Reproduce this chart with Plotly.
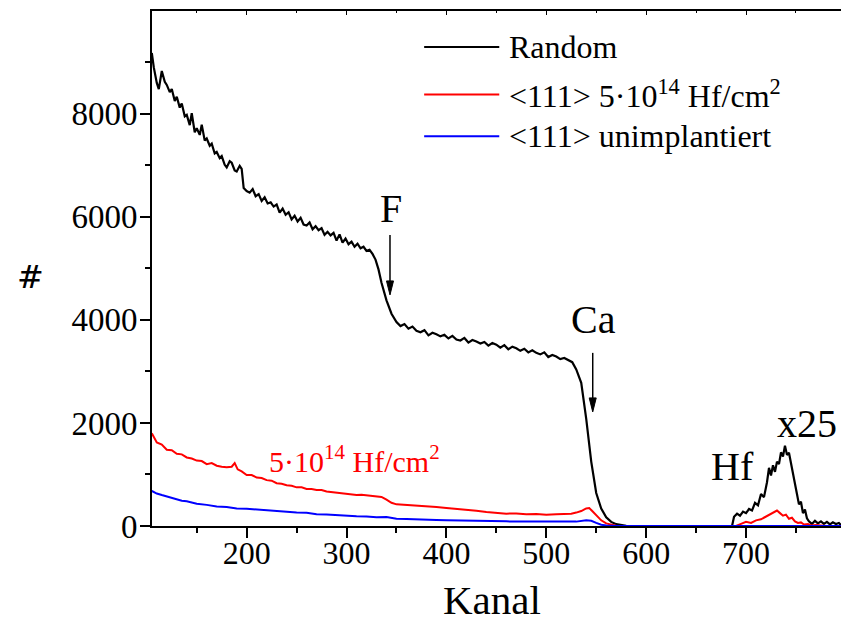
import plotly.graph_objects as go

# ---------------- data ----------------
random_x = [105,107,110,112,115,118,120,123,125,128,130,133,135,138,140,143,145,148,150,153,
            155,158,160,163,165,168,170,173,175,178,180,183,185,188,190,193,195,197,200,
            203,206,209,212,215,218,221,224,227,230,233,236,239,242,245,248,251,254,257,260,
            263,266,269,272,275,278,281,284,287,290,293,296,299,302,305,308,311,314,317,320,
            323,326,329,332,335,340,345,350,354,358,362,366,370,374,378,382,386,390,394,398,
            402,406,410,414,418,422,426,430,434,438,442,446,450,454,458,462,466,470,474,478,
            482,486,490,494,498,502,506,510,514,518,522,526,530,535,540,545,550,555,560,565,
            570,575,580,590,600,620,640,660,680,686,688,691,694,697,700,703,706,709,712,715,
            718,721,723,725,727,729,731,733,735,737,739,741,743,745,747,749,751,753,755,757,
            759,761,763,766,769,772,775,778,781,784,787,790,793,795]
random_y = [9180,8900,8600,8480,8830,8620,8560,8420,8480,8250,8330,8120,8200,7950,7980,7780,8010,7640,7720,7590,
            7790,7480,7520,7380,7420,7230,7260,7140,7180,7010,6960,7080,7050,6900,6880,6990,6930,6560,6500,
            6470,6540,6400,6440,6310,6380,6260,6280,6200,6240,6080,6160,6040,6090,5950,6020,5910,5980,5850,5830,
            5890,5760,5820,5740,5780,5650,5710,5640,5690,5540,5660,5500,5580,5470,5520,5420,5480,5390,5420,5340,
            5360,5280,5170,4980,4720,4380,4120,3960,3880,3920,3830,3870,3790,3760,3800,3700,3750,3720,3680,3710,
            3640,3690,3620,3600,3650,3560,3610,3580,3540,3570,3500,3550,3520,3460,3510,3430,3480,3450,3400,3440,
            3370,3410,3360,3330,3370,3280,3320,3290,3240,3260,3220,3180,3040,2780,2080,1250,640,340,170,80,
            35,15,5,0,0,0,0,0,0,0,180,240,200,280,250,330,300,450,400,620,
            560,850,1130,980,1180,1050,1250,1200,1430,1350,1560,1380,1420,1200,1000,760,620,420,470,250,
            320,150,90,40,100,50,90,40,80,30,70,40,60,20]

impl_x = [105,110,115,120,125,130,135,140,145,150,155,160,165,170,175,180,185,188,191,195,
          200,205,210,215,220,225,230,235,240,245,250,255,260,265,270,275,280,285,290,295,
          300,305,310,315,320,325,330,335,340,345,350,355,360,370,380,390,400,410,420,430,
          440,450,460,470,480,490,500,510,520,525,530,535,540,543,546,550,555,560,565,570,
          580,600,650,690,695,700,705,710,715,720,724,728,731,734,737,740,743,746,749,752,
          755,758,762,765,770,780,795]
impl_y = [1800,1620,1580,1480,1470,1400,1390,1330,1310,1270,1260,1200,1220,1170,1150,1140,1150,1220,1100,1060,
          990,990,940,930,890,880,830,820,790,780,750,750,720,720,700,700,670,660,640,640,
          620,615,600,605,595,595,580,565,510,450,420,415,400,390,385,370,350,335,310,295,
          270,255,240,245,230,235,220,230,230,240,260,290,340,350,290,200,110,50,20,5,
          0,0,0,0,40,80,60,110,130,180,220,260,300,250,200,220,140,160,90,60,
          70,30,40,10,20,0,0]

unimpl_x = [105,110,115,120,125,130,135,140,150,160,170,180,190,200,210,220,230,240,250,260,
            270,280,290,300,310,320,330,340,350,360,370,380,390,400,420,440,460,480,500,520,
            530,540,545,550,555,560,570,600,700,795]
unimpl_y = [680,630,600,570,540,520,490,480,430,410,380,370,340,335,320,305,280,275,260,255,
            230,225,210,205,190,185,170,175,140,135,125,120,115,110,100,95,90,85,80,80,
            85,110,100,60,25,10,0,0,0,0]

series_names = ["Random", "&lt;111&gt; 5·10<sup>14</sup> Hf/cm<sup>2</sup>", "&lt;111&gt; unimplantiert"]
series_colors = ["black", "#ff0000", "#0000ff"]
series_widths = [2.2, 2, 2]

x_range = [105.2, 795.1]
y_range = [0, 9995]

FONT = "Liberation Serif"

fig = go.Figure()
for xs, ys, name, col, w in zip([random_x, impl_x, unimpl_x], [random_y, impl_y, unimpl_y],
                                series_names, series_colors, series_widths):
    fig.add_trace(go.Scatter(x=xs, y=ys, mode="lines", name=name,
                             line=dict(color=col, width=w), showlegend=False))

fig.update_layout(
    width=841, height=622,
    margin=dict(l=152, r=0, t=11, b=96),
    paper_bgcolor="white", plot_bgcolor="white",
    font=dict(family=FONT, color="black", size=32),
    xaxis=dict(range=x_range, dtick=100, tick0=0, ticks="outside", ticklen=10, tickwidth=1.5,
               tickcolor="black", showline=True, linecolor="black", linewidth=2,
               showgrid=False, zeroline=False, tickformat="d", ticklabelstandoff=-12,
               tickfont=dict(size=32, family=FONT),
               minor=dict(dtick=50, tick0=0, ticks="outside", ticklen=5, tickcolor="black", tickwidth=1.5)),
    xaxis2=dict(range=x_range, overlaying="x", side="top", dtick=100, tick0=0, ticks="inside",
                ticklen=4, tickcolor="black", showline=True, linecolor="black", linewidth=2,
                showticklabels=False, showgrid=False, zeroline=False,
                minor=dict(dtick=50, tick0=0, ticks="inside", ticklen=2, tickcolor="black")),
    yaxis=dict(range=y_range, dtick=2000, tick0=0, ticks="outside", ticklen=10, tickwidth=1.5,
               tickcolor="black", showline=True, linecolor="black", linewidth=2,
               showgrid=False, zeroline=False, tickformat="d", ticklabelstandoff=-4,
               tickfont=dict(size=33, family=FONT),
               minor=dict(dtick=1000, tick0=0, ticks="outside", ticklen=5, tickcolor="black", tickwidth=1.5)),
)

# dummy trace so the top axis is drawn
fig.add_trace(go.Scatter(x=[x_range[0]], y=[0], xaxis="x2", mode="markers",
                         marker=dict(opacity=0), showlegend=False, hoverinfo="skip"))

# custom legend (long line samples as in the original)
legend_y = [0.930, 0.838, 0.757]
for ly, name, col in zip(legend_y, series_names, series_colors):
    fig.add_shape(type="line", xref="paper", yref="paper", x0=0.395, x1=0.504, y0=ly, y1=ly,
                  line=dict(color=col, width=2))
    fig.add_annotation(xref="paper", yref="paper", x=0.515, y=ly, text=name, showarrow=False,
                       xanchor="left", yanchor="middle", font=dict(size=32, family=FONT, color="black"))

# element labels and arrows
labels = [("F", 344.5, 6170, 40), ("Ca", 547, 4000, 40), ("Hf", 686.5, 1160, 40), ("x25", 761.5, 1980, 40)]
for txt, lx, ly, fs in labels:
    fig.add_annotation(x=lx, y=ly, text=txt, showarrow=False, xanchor="center", yanchor="middle",
                       font=dict(size=fs, family=FONT, color="black"))

arrows = [(343.5, 5650, 4485), (546.5, 3360, 2214)]
for axx, y_from, y_to in arrows:
    fig.add_shape(type="line", x0=axx, x1=axx, y0=y_from, y1=y_to + 150, line=dict(color="black", width=1.5))
    fig.add_shape(type="path", xsizemode="pixel", ysizemode="pixel", xanchor=axx, yanchor=y_to,
                  path="M -3.5 14 L 3.5 14 L 0 0 Z", fillcolor="black", line=dict(color="black", width=1))

fig.add_annotation(x=307.5, y=1300, text="5·10<sup>14</sup> Hf/cm<sup>2</sup>", showarrow=False,
                   xanchor="center", yanchor="middle", font=dict(size=30, family=FONT, color="#ff0000"))

# axis titles
fig.add_annotation(xref="paper", yref="paper", x=0.493, y=-0.144, text="Kanal", showarrow=False,
                   xanchor="center", yanchor="middle", font=dict(size=41, family=FONT, color="black"))
fig.add_annotation(xref="paper", yref="paper", x=-0.177, y=0.483, text="#", showarrow=False,
                   xanchor="center", yanchor="middle", font=dict(size=32, family="DejaVu Serif", color="black"))

fig.write_html("out.html")
